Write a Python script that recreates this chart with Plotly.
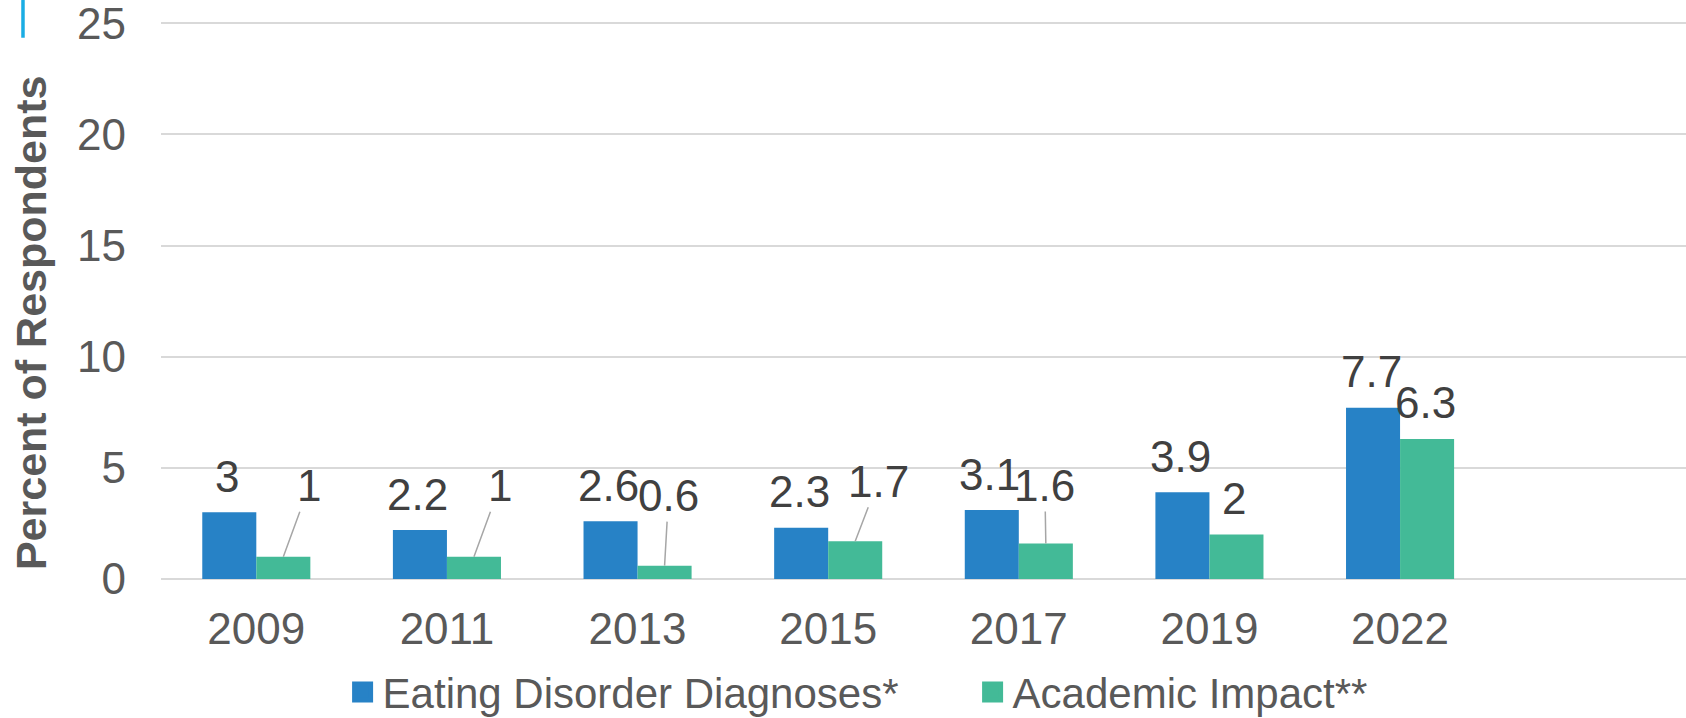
import plotly.graph_objects as go

# ---- data ----
years = ["2009", "2011", "2013", "2015", "2017", "2019", "2022"]
eating_disorder = [3, 2.2, 2.6, 2.3, 3.1, 3.9, 7.7]
academic_impact = [1, 1, 0.6, 1.7, 1.6, 2, 6.3]
series_names = ["Eating Disorder Diagnoses*", "Academic Impact**"]
y_ticks = [0, 5, 10, 15, 20, 25]

# ---- style ----
BLUE = "#2782C6"
GREEN = "#43BA97"
FONT = "Liberation Sans, Arial, sans-serif"
TICK_COLOR = "#595959"
LABEL_COLOR = "#404040"
GRID = "#D9D9D9"
FS = 44
BARGAP = 0.433
# label pixel offsets (dx, dy) for leader-line labels of the second series
academic_leader = [(26, -71), (26, -71), (4, -70), (23, -60), (-1, -58), None, None]

fig = go.Figure()
fig.add_trace(go.Bar(x=years, y=eating_disorder, name=series_names[0], showlegend=False,
                     marker=dict(color=BLUE, line=dict(width=0))))
fig.add_trace(go.Bar(x=years, y=academic_impact, name=series_names[1], showlegend=False,
                     marker=dict(color=GREEN, line=dict(width=0))))
# legend entries with larger square swatches
for name, col in zip(series_names, [BLUE, GREEN]):
    fig.add_trace(go.Scatter(x=[None], y=[None], mode="markers", name=name,
                             marker=dict(symbol="square", size=16, color=col,
                                         line=dict(color=col, width=5))))

half = (1 - BARGAP) / 4
annotations = []
for i, v in enumerate(eating_disorder):
    annotations.append(dict(x=i - half, y=v, xref="x", yref="y", text=f"{v:g}",
                            showarrow=False, yanchor="middle", yshift=36, xshift=-2,
                            font=dict(family=FONT, size=FS, color=LABEL_COLOR)))
for i, v in enumerate(academic_impact):
    off = academic_leader[i]
    if off is None:
        annotations.append(dict(x=i + half, y=v, xref="x", yref="y", text=f"{v:g}",
                                showarrow=False, yanchor="middle", yshift=36, xshift=-2,
                                font=dict(family=FONT, size=FS, color=LABEL_COLOR)))
    else:
        annotations.append(dict(x=i + half, y=v, xref="x", yref="y", text=f"{v:g}",
                                showarrow=True, arrowhead=0, arrowwidth=1.5,
                                arrowcolor="#A6A6A6", ax=off[0], ay=off[1], standoff=0,
                                font=dict(family=FONT, size=FS, color=LABEL_COLOR)))

annotations.append(dict(text="<b>Percent of Respondents</b>", textangle=-90,
                        xref="paper", yref="paper", x=0, y=0.4586, xshift=-130,
                        showarrow=False, xanchor="center", yanchor="middle",
                        font=dict(family=FONT, size=FS - 1, color=TICK_COLOR)))

fig.update_layout(
    width=1686, height=718,
    margin=dict(l=161, r=0, t=21, b=139),
    paper_bgcolor="white", plot_bgcolor="white",
    barmode="group", bargap=BARGAP, bargroupgap=0,
    font=dict(family=FONT, size=FS, color=TICK_COLOR),
    xaxis=dict(type="category", range=[-0.5, 7.5], showgrid=False, showline=False,
               ticks="", ticklabelstandoff=20, tickfont=dict(size=FS, color=TICK_COLOR)),
    yaxis=dict(range=[0, 25.1], tickvals=y_ticks, showgrid=True, gridcolor=GRID, gridwidth=1.5,
               zeroline=True, zerolinecolor=GRID, zerolinewidth=1.5, showline=False,
               ticks="", ticklabelstandoff=34, ticklabeloverflow="allow",
               tickfont=dict(size=FS, color=TICK_COLOR)),
    legend=dict(orientation="h", xref="container", yref="container", x=0.2032, y=0.036,
                xanchor="left", yanchor="middle", entrywidth=585, entrywidthmode="pixels",
                font=dict(family=FONT, size=42, color=TICK_COLOR)),
    annotations=annotations,
    shapes=[dict(type="line", xref="paper", yref="paper", x0=-0.0905, x1=-0.0905,
                 y0=1.0376, y1=0.970, line=dict(color="#1AADE4", width=3.5))],
)

fig.write_html("out.html", config={"displayModeBar": False},
               post_script="document.body.style.margin='0';document.body.style.overflow='hidden';")
